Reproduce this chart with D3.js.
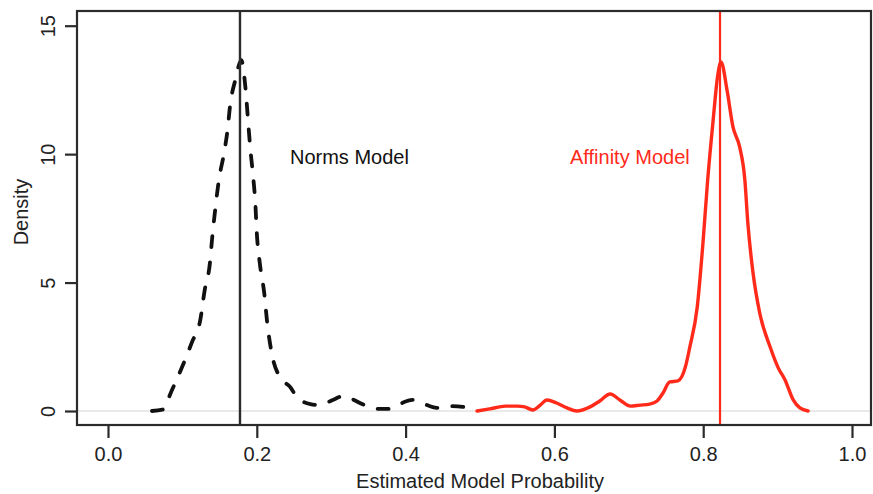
<!DOCTYPE html>
<html>
<head>
<meta charset="utf-8">
<script src="https://cdn.jsdelivr.net/npm/d3@7"></script>
<style>
  html, body { margin: 0; padding: 0; background: #fff; }
  svg { display: block; font-family: "Liberation Sans", Arial, Helvetica, sans-serif; }
</style>
</head>
<body>
<svg id="chart" width="873" height="494"></svg>
<script>
// ---- data ----
const normsX = [0.059, 0.073, 0.086, 0.099, 0.113, 0.124, 0.130, 0.137, 0.140, 0.144, 0.149, 0.156, 0.161, 0.164, 0.171, 0.177, 0.179, 0.185, 0.188, 0.191, 0.195, 0.198, 0.200, 0.204, 0.210, 0.214, 0.220, 0.231, 0.245, 0.254, 0.272, 0.285, 0.302, 0.316, 0.325, 0.345, 0.363, 0.378, 0.392, 0.409, 0.422, 0.442, 0.462, 0.477, 0.487];
const normsY = [0.00, 0.05, 0.82, 1.67, 2.69, 3.54, 4.71, 5.76, 6.73, 7.82, 8.99, 10.04, 11.02, 11.87, 12.88, 13.55, 13.66, 12.50, 11.40, 10.30, 9.15, 8.10, 6.93, 5.76, 4.59, 3.43, 2.26, 1.32, 0.93, 0.54, 0.27, 0.23, 0.43, 0.58, 0.50, 0.23, 0.08, 0.08, 0.27, 0.43, 0.31, 0.12, 0.19, 0.16, 0.04];

const affinityX = [0.496, 0.513, 0.534, 0.550, 0.560, 0.571, 0.581, 0.590, 0.603, 0.617, 0.630, 0.648, 0.661, 0.675, 0.688, 0.702, 0.715, 0.728, 0.738, 0.746, 0.755, 0.766, 0.776, 0.782, 0.792, 0.800, 0.806, 0.813, 0.820, 0.824, 0.832, 0.840, 0.849, 0.856, 0.860, 0.867, 0.876, 0.890, 0.901, 0.910, 0.921, 0.930, 0.941];
const affinityY = [0.00, 0.08, 0.19, 0.19, 0.16, 0.04, 0.23, 0.43, 0.31, 0.12, 0.00, 0.16, 0.39, 0.66, 0.43, 0.19, 0.23, 0.27, 0.39, 0.70, 1.13, 1.17, 1.71, 2.49, 4.05, 6.66, 8.99, 11.21, 13.16, 13.59, 12.50, 11.06, 10.28, 8.99, 7.32, 5.37, 3.81, 2.49, 1.67, 1.21, 0.43, 0.12, 0.00];

const normsMode = 0.1774;
const affinityMode = 0.8226;

const xTicks = [0.0, 0.2, 0.4, 0.6, 0.8, 1.0];
const yTicks = [0, 5, 10, 15];
const xTickLabels = ["0.0", "0.2", "0.4", "0.6", "0.8", "1.0"];
const yTickLabels = ["0", "5", "10", "15"];

const labels = ["Norms Model", "Affinity Model"];
const labelPos = [{ x: 0.2446, y: 9.9 }, { x: 0.621, y: 9.9 }];

// ---- layout ----
const box = { left: 77, right: 871, top: 11, bottom: 425 };
const x = d3.scaleLinear().domain([0, 1]).range([108, 852]);
const y = d3.scaleLinear().domain([0, 15]).range([411, 25.7]);

const svg = d3.select("#chart");
const red = "#ff2a1a";
const ink = "#2b2b2b";
const fs = 20;

// zero reference line
svg.append("line")
  .attr("x1", box.left).attr("x2", box.right)
  .attr("y1", y(0)).attr("y2", y(0))
  .attr("stroke", "#d4d4d4").attr("stroke-width", 1);

const line = d3.line()
  .x(d => x(d[0])).y(d => y(d[1]))
  .curve(d3.curveMonotoneX);

const norms = normsX.map((v, i) => [v, normsY[i]]);
const affinity = affinityX.map((v, i) => [v, affinityY[i]]);

svg.append("path")
  .datum(norms)
  .attr("d", line)
  .attr("fill", "none")
  .attr("stroke", "#111")
  .attr("stroke-width", 3.8)
  .attr("stroke-dasharray", "11,15")
  .attr("stroke-linecap", "round");

svg.append("path")
  .datum(affinity)
  .attr("d", line)
  .attr("fill", "none")
  .attr("stroke", red)
  .attr("stroke-width", 3.4)
  .attr("stroke-linejoin", "round")
  .attr("stroke-linecap", "round");

// mode lines
svg.append("line")
  .attr("x1", x(normsMode)).attr("x2", x(normsMode))
  .attr("y1", box.top).attr("y2", box.bottom)
  .attr("stroke", ink).attr("stroke-width", 2.4);
svg.append("line")
  .attr("x1", x(affinityMode)).attr("x2", x(affinityMode))
  .attr("y1", box.top).attr("y2", box.bottom)
  .attr("stroke", red).attr("stroke-width", 2.2);

// box
svg.append("rect")
  .attr("x", box.left).attr("y", box.top)
  .attr("width", box.right - box.left).attr("height", box.bottom - box.top)
  .attr("fill", "none").attr("stroke", ink).attr("stroke-width", 2.2);

// x axis
const xAxis = svg.append("g")
  .attr("transform", `translate(0,${box.bottom})`)
  .call(d3.axisBottom(x).tickValues(xTicks)
    .tickFormat((d, i) => xTickLabels[i]).tickSize(13).tickPadding(9));
xAxis.select(".domain").remove();
xAxis.selectAll(".tick line").attr("stroke", ink).attr("stroke-width", 2.2);
xAxis.selectAll(".tick text")
  .attr("fill", "#222").attr("font-size", fs)
  .attr("font-family", "Liberation Sans, Arial, sans-serif");

// y axis
const yAxis = svg.append("g")
  .attr("transform", `translate(${box.left},0)`)
  .call(d3.axisLeft(y).tickValues(yTicks)
    .tickFormat((d, i) => yTickLabels[i]).tickSize(12).tickPadding(0));
yAxis.select(".domain").remove();
yAxis.selectAll(".tick line").attr("stroke", ink).attr("stroke-width", 2.2);
yAxis.selectAll(".tick text")
  .attr("fill", "#222").attr("font-size", fs)
  .attr("font-family", "Liberation Sans, Arial, sans-serif")
  .attr("x", 0).attr("dy", null)
  .attr("text-anchor", "middle")
  .attr("dominant-baseline", "central")
  .attr("transform", "translate(-29,0) rotate(-90)");

// axis titles
svg.append("text")
  .attr("x", 480).attr("y", 481)
  .attr("text-anchor", "middle").attr("dominant-baseline", "central")
  .attr("font-size", fs).attr("fill", "#222")
  .text("Estimated Model Probability");

svg.append("text")
  .attr("transform", `translate(21,${212}) rotate(-90)`)
  .attr("text-anchor", "middle").attr("dominant-baseline", "central")
  .attr("font-size", fs).attr("fill", "#222")
  .text("Density");

// annotations
svg.append("text")
  .attr("x", x(labelPos[0].x)).attr("y", y(labelPos[0].y))
  .attr("dominant-baseline", "central")
  .attr("font-size", fs).attr("fill", "#111")
  .text(labels[0]);
svg.append("text")
  .attr("x", x(labelPos[1].x)).attr("y", y(labelPos[1].y))
  .attr("dominant-baseline", "central")
  .attr("font-size", fs).attr("fill", red)
  .text(labels[1]);
</script>
</body>
</html>
